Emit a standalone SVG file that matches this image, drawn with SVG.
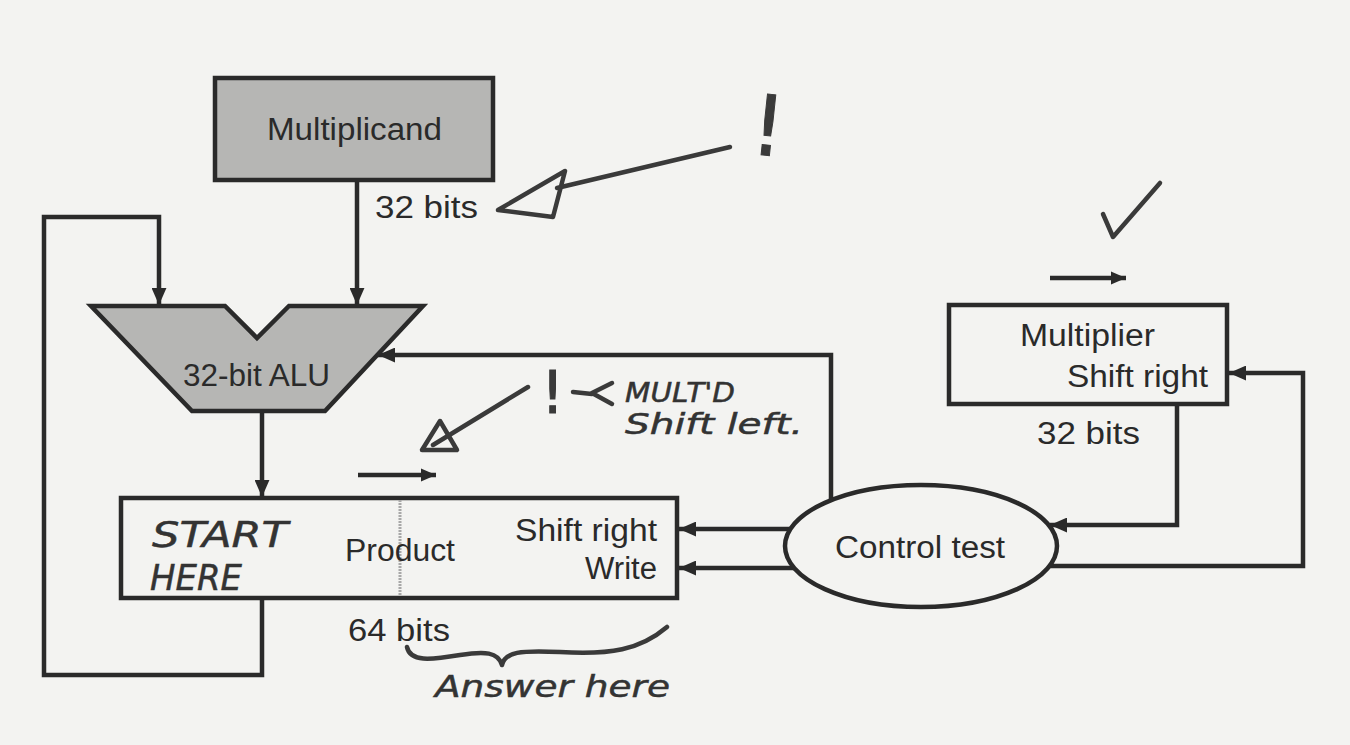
<svg xmlns="http://www.w3.org/2000/svg" width="1350" height="745" viewBox="0 0 1350 745">
  <defs>
    <marker id="ah" viewBox="0 0 16 14" refX="16" refY="7" markerWidth="17" markerHeight="15" markerUnits="userSpaceOnUse" orient="auto">
      <path d="M0,0 L16,7 L0,14 Z" fill="#2a2a2a"/>
    </marker>
    <marker id="ahs" viewBox="0 0 14 12" refX="14" refY="6" markerWidth="15" markerHeight="14" markerUnits="userSpaceOnUse" orient="auto">
      <path d="M0,0 L14,6 L0,12 Z" fill="#2a2a2a"/>
    </marker>
  </defs>
  <style>
    .shaded { fill: #b6b6b4; stroke: #2a2a2a; stroke-width: 4.5; }
    .plain { fill: #f3f3f1; stroke: #2a2a2a; stroke-width: 4.5; }
    .conn { fill: none; stroke: #2a2a2a; stroke-width: 4.5; }
    .lbl { font-family: "Liberation Sans", Arial, sans-serif; font-size: 31px; fill: #2a2a2a; }
    .hand { font-family: "DejaVu Sans", sans-serif; font-style: oblique; fill: #333; stroke: #333; stroke-width: 0.5; }
    .bang { font-family: "DejaVu Sans", sans-serif; fill: #3a3a3a; stroke: #3a3a3a; stroke-width: 1; }
    .ink { fill: none; stroke: #3a3a3a; stroke-width: 4.5; stroke-linecap: round; stroke-linejoin: round; }
  </style>
  <rect x="0" y="0" width="1350" height="745" fill="#f3f3f1"/>

  <g id="connectors">
    <path class="conn" d="M357,180 L357,305" marker-end="url(#ah)"/>
    <path class="conn" d="M262,598 L262,675 L44,675 L44,217 L159,217 L159,305" marker-end="url(#ah)"/>
    <path class="conn" d="M262,411 L262,497" marker-end="url(#ah)"/>
    <path class="conn" d="M831,500 L831,355 L378,355" marker-end="url(#ah)"/>
    <path class="conn" d="M790,529 L679,529" marker-end="url(#ah)"/>
    <path class="conn" d="M794,568 L679,568" marker-end="url(#ah)"/>
    <path class="conn" d="M1177,404 L1177,525 L1050,525" marker-end="url(#ah)"/>
    <path class="conn" d="M1050,566 L1303,566 L1303,373 L1229,373" marker-end="url(#ah)"/>
    <path class="conn" d="M358,475 L436,475" marker-end="url(#ahs)"/>
    <path class="conn" d="M1050,278 L1126,278" marker-end="url(#ahs)"/>
  </g>

  <g id="multiplicand">
    <rect class="shaded" x="215" y="78" width="278" height="102"/>
    <text class="lbl" x="267" y="140" textLength="175" lengthAdjust="spacingAndGlyphs">Multiplicand</text>
    <text class="lbl" x="375" y="218" textLength="103" lengthAdjust="spacingAndGlyphs">32 bits</text>
  </g>

  <g id="alu">
    <polygon class="shaded" points="91,306 225,306 257,338 289,306 423,306 325,411 192,411"/>
    <text class="lbl" x="183" y="386" textLength="147" lengthAdjust="spacingAndGlyphs">32-bit ALU</text>
  </g>

  <g id="product">
    <rect class="plain" x="121" y="498" width="556" height="100"/>
    <line x1="400" y1="500" x2="400" y2="596" stroke="#a8a8a8" stroke-width="3" stroke-dasharray="2,1"/>
    <text class="lbl" x="345" y="561" textLength="110" lengthAdjust="spacingAndGlyphs">Product</text>
    <text class="lbl" x="657" y="541" text-anchor="end" textLength="142" lengthAdjust="spacingAndGlyphs">Shift right</text>
    <text class="lbl" x="657" y="579" text-anchor="end" textLength="72" lengthAdjust="spacingAndGlyphs">Write</text>
    <text class="lbl" x="348" y="641" textLength="102" lengthAdjust="spacingAndGlyphs">64 bits</text>
  </g>

  <g id="multiplier">
    <rect class="plain" x="949" y="305" width="278" height="99"/>
    <text class="lbl" x="1020" y="346" textLength="135" lengthAdjust="spacingAndGlyphs">Multiplier</text>
    <text class="lbl" x="1208" y="387" text-anchor="end" textLength="141" lengthAdjust="spacingAndGlyphs">Shift right</text>
    <text class="lbl" x="1037" y="444" textLength="103" lengthAdjust="spacingAndGlyphs">32 bits</text>
  </g>

  <g id="control">
    <ellipse class="plain" cx="921" cy="546" rx="136" ry="61"/>
    <text class="lbl" x="835" y="558" textLength="170" lengthAdjust="spacingAndGlyphs">Control test</text>
  </g>

  <g id="annotations">
    <text class="hand" x="152" y="547" font-size="36" textLength="136" lengthAdjust="spacingAndGlyphs">START</text>
    <text class="hand" x="150" y="590" font-size="36" textLength="92" lengthAdjust="spacingAndGlyphs">HERE</text>
    <path class="ink" d="M730,147 L557,188"/>
    <path class="ink" d="M498,210 L565,171 L553,217 Z"/>
    <text class="bang" x="752" y="155" font-size="84" transform="rotate(6 765 120)">!</text>
    <path class="ink" d="M528,387 L433,445"/>
    <path class="ink" d="M422,450 L440,421 L457,450 Z"/>
    <text class="bang" x="541" y="413" font-size="58">!</text>
    <path class="ink" d="M573,392 L592,394" stroke-width="8"/>
    <path class="ink" d="M612,383 L592,393 L612,404" stroke-width="5"/>
    <text class="hand" x="625" y="402" font-size="26" textLength="110" lengthAdjust="spacingAndGlyphs">MULT'D</text>
    <text class="hand" x="625" y="434" font-size="28" textLength="178" lengthAdjust="spacingAndGlyphs">Shift left.</text>
    <path class="ink" d="M1103,214 L1113,237 L1160,183" stroke-width="3.5"/>
    <path class="ink" d="M407,647 C410,662 430,660 460,655 C485,651 498,652 502,665 M502,665 C505,652 520,650 560,652 C610,655 640,650 667,627" stroke-width="3.5"/>
    <text class="hand" x="435" y="697" font-size="30" textLength="235" lengthAdjust="spacingAndGlyphs">Answer here</text>
  </g>
</svg>
